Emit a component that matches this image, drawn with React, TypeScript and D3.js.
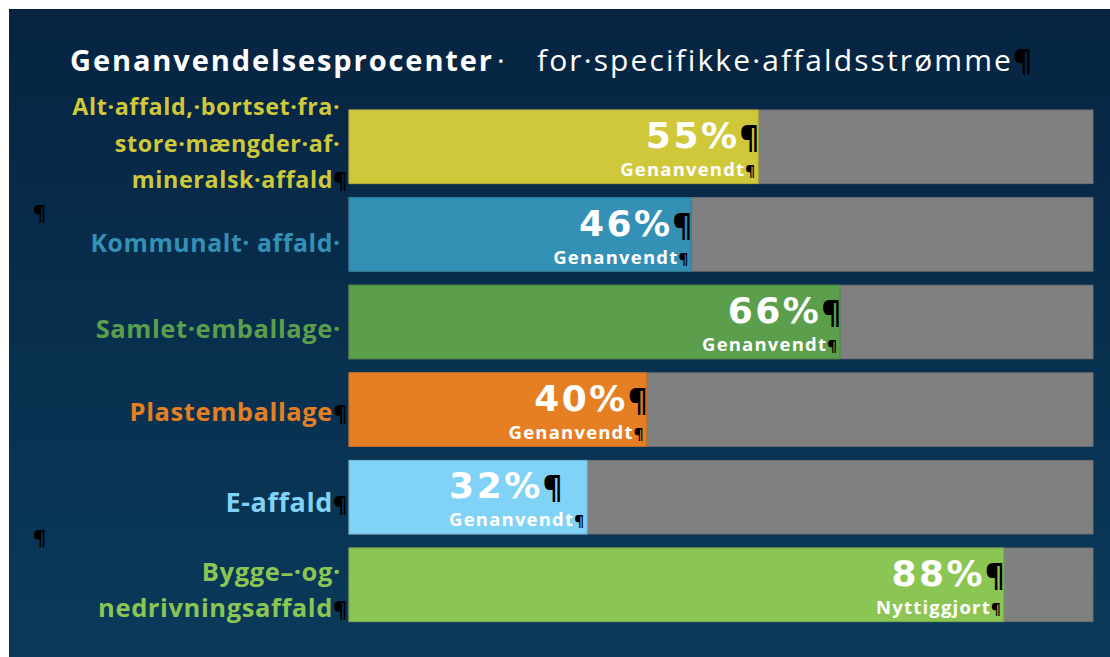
import React, { useEffect, useRef } from "react";
import * as d3 from "d3";

// ---- data ----
const categories: string[][] = [
  ["Alt·affald,·bortset·fra·", "store·mængder·af·", "mineralsk·affald¶"],
  ["Kommunalt· affald·"],
  ["Samlet·emballage·"],
  ["Plastemballage¶"],
  ["E-affald¶"],
  ["Bygge–·og·", "nedrivningsaffald¶"],
];
const values: number[] = [55, 46, 66, 40, 32, 88];
const valueCaptions: string[] = [
  "Genanvendt",
  "Genanvendt",
  "Genanvendt",
  "Genanvendt",
  "Genanvendt",
  "Nyttiggjort",
];
const titleBold = "Genanvendelsesprocenter";
const titleRegular = "for·specifikke·affaldsstrømme";

// ---- style ----
const colors = ["#d0c83b", "#3490b4", "#5b9e4c", "#e67f23", "#80d2f6", "#8bc554"];
const numberAlign = ["end", "end", "end", "end", "start", "end"];
const labelNudge = [-10, 3, 1, -4, 0, -1];
const labelSize = [23.3, 24.8, 25.5, 25.5, 27, 25.5];
const W = 1110;
const H = 657;
const FONT = "'Open Sans', 'Noto Sans', sans-serif";
const NUMFONT = "'DejaVu Sans', 'Open Sans', sans-serif";

export default function App() {
  const ref = useRef<SVGSVGElement>(null);

  useEffect(() => {
    const svg = d3.select(ref.current);
    svg.selectAll("*").remove();

    const defs = svg.append("defs");
    const grad = defs
      .append("linearGradient")
      .attr("id", "bg")
      .attr("x1", 0)
      .attr("y1", 0)
      .attr("x2", 0)
      .attr("y2", 1);
    grad.append("stop").attr("offset", "0%").attr("stop-color", "#062441");
    grad.append("stop").attr("offset", "100%").attr("stop-color", "#0a3a5b");

    svg.append("rect").attr("width", W).attr("height", H).attr("fill", "#ffffff");
    svg
      .append("rect")
      .attr("x", 9)
      .attr("y", 9)
      .attr("width", W - 9)
      .attr("height", H - 9)
      .attr("fill", "url(#bg)");

    // title
    const title = svg
      .append("text")
      .attr("x", 70)
      .attr("y", 71)
      .attr("font-family", FONT)
      .attr("font-size", 29)
      .attr("fill", "#ffffff");
    title
      .append("tspan")
      .attr("font-weight", 700)
      .attr("letter-spacing", 1.9)
      .text(titleBold);
    title.append("tspan").attr("font-weight", 400).attr("dx", 3).text("· ");
    title
      .append("tspan")
      .attr("x", 537)
      .attr("font-weight", 400)
      .attr("font-size", 30)
      .attr("letter-spacing", 2.1)
      .text(titleRegular);
    title
      .append("tspan")
      .attr("fill", "#000000")
      .attr("font-weight", 700)
      .text("¶");

    const x = d3.scaleLinear().domain([0, 100]).range([349, 1093]);
    const y = d3
      .scaleBand<number>()
      .domain(d3.range(values.length))
      .range([110, 621.6])
      .paddingInner(0.16)
      .paddingOuter(0);
    const bh = y.bandwidth();

    values.forEach((v, i) => {
      const top = y(i)!;
      const g = svg.append("g");
      g.append("rect")
        .attr("x", x(0))
        .attr("y", top)
        .attr("width", x(100) - x(0))
        .attr("height", bh)
        .attr("fill", "#808080")
        .attr("stroke", "#707070")
        .attr("stroke-width", 1);
      g.append("rect")
        .attr("x", x(0))
        .attr("y", top)
        .attr("width", x(v) - x(0))
        .attr("height", bh)
        .attr("fill", colors[i])
        .attr("stroke", d3.color(colors[i])!.darker(0.4).toString())
        .attr("stroke-width", 1);

      // caption
      const cap = g
        .append("text")
        .attr("x", x(v) - 3)
        .attr("y", top + 66)
        .attr("text-anchor", "end")
        .attr("font-family", FONT)
        .attr("font-weight", 700)
        .attr("font-size", 18.5);
      cap
        .append("tspan")
        .attr("fill", "#ffffff")
        .attr("letter-spacing", 1.2)
        .text(valueCaptions[i]);
      cap.append("tspan").attr("fill", "#000000").attr("font-size", 15).text("¶");

      // number
      const num = g
        .append("text")
        .attr("y", top + 38)
        .attr("font-family", NUMFONT)
        .attr("font-weight", 700)
        .attr("font-size", 36);
      num
        .append("tspan")
        .attr("fill", "#ffffff")
        .attr("letter-spacing", 2.5)
        .text(`${v}%`);
      num
        .append("tspan")
        .attr("fill", "#000000")
        .attr("font-family", FONT)
        .attr("font-size", 30)
        .text("¶");
      if (numberAlign[i] === "start") {
        const bb = (cap.node() as SVGTextElement).getBBox();
        num.attr("text-anchor", "start").attr("x", bb.x);
      } else {
        num.attr("text-anchor", "end").attr("x", x(v) + 1);
      }

      // category label
      const lines = categories[i];
      const c = top + bh / 2;
      const lh = 36.5;
      lines.forEach((line, j) => {
        const base = c + 15 + lh * (j - (lines.length - 1) / 2) + labelNudge[i];
        const last = line.slice(-1);
        const hasMark = last === "·" || last === "¶";
        const main = hasMark ? line.slice(0, -1) : line;
        g.append("text")
          .attr("x", 333)
          .attr("y", base)
          .attr("text-anchor", "end")
          .attr("font-family", FONT)
          .attr("font-weight", 700)
          .attr("font-size", labelSize[i])
          .attr("letter-spacing", 0.6)
          .attr("fill", colors[i])
          .text(main);
        if (hasMark) {
          g.append("text")
            .attr("x", 333)
            .attr("y", base)
            .attr("font-family", FONT)
            .attr("font-weight", 700)
            .attr("font-size", last === "¶" ? 22 : labelSize[i])
            .attr("fill", last === "¶" ? "#000000" : colors[i])
            .text(last);
        }
      });
    });

    // empty paragraph marks
    [
      [33, 220],
      [33, 545],
    ].forEach(([px, py]) => {
      svg
        .append("text")
        .attr("x", px)
        .attr("y", py)
        .attr("font-family", FONT)
        .attr("font-weight", 700)
        .attr("font-size", 20)
        .attr("fill", "#000000")
        .text("¶");
    });
  }, []);

  return (
    <svg
      ref={ref}
      width={W}
      height={H}
      style={{ position: "absolute", left: 0, top: 0, display: "block" }}
    />
  );
}
